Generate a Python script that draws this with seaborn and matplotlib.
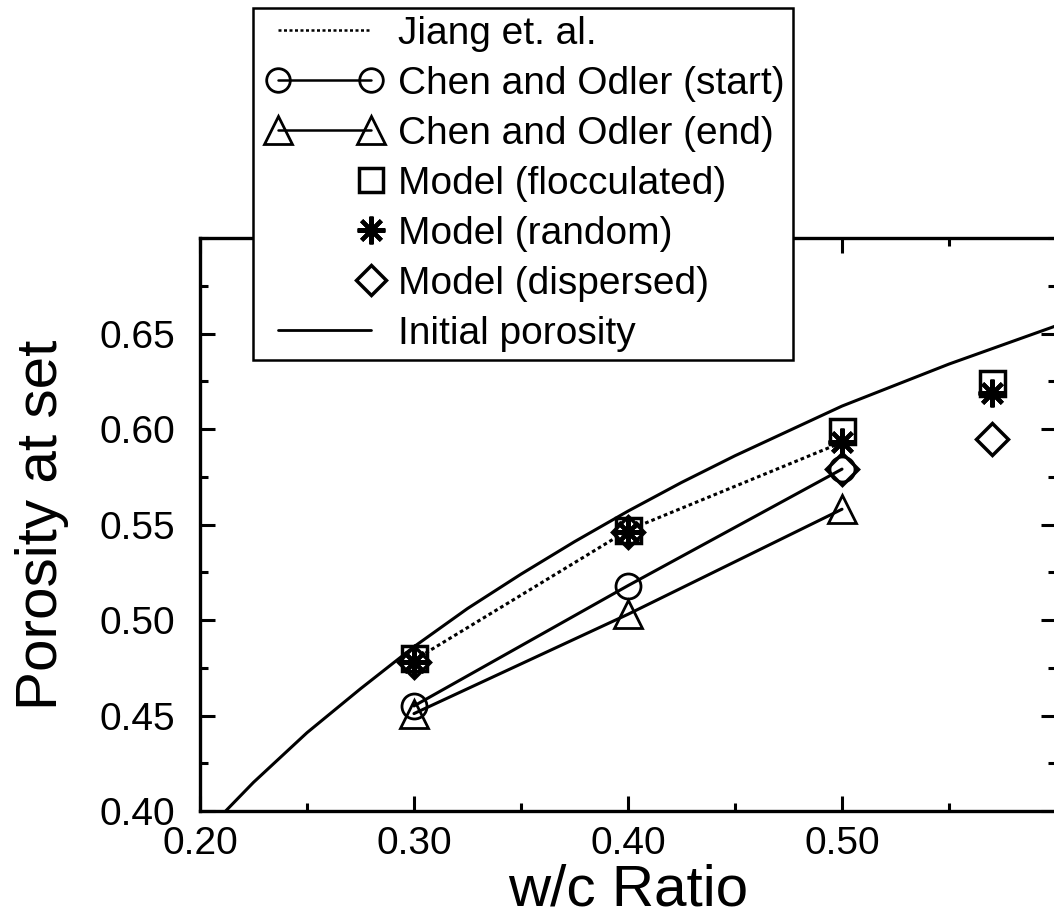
import numpy as np
import pandas as pd
import matplotlib
matplotlib.use("Agg")
import matplotlib.pyplot as plt
import seaborn as sns
from matplotlib.lines import Line2D
from matplotlib.legend_handler import HandlerLine2D
from matplotlib.ticker import MultipleLocator

# --- DATA ---
wc_init = [0.212, 0.225, 0.25, 0.275, 0.30, 0.325, 0.35, 0.375, 0.40,
           0.425, 0.45, 0.475, 0.50, 0.525, 0.55, 0.575, 0.60]
por_init = [0.400, 0.415, 0.441, 0.464, 0.486, 0.506, 0.524, 0.541, 0.557,
            0.572, 0.586, 0.599, 0.612, 0.623, 0.634, 0.644, 0.654]

wc_exp = [0.30, 0.40, 0.50]
jiang = [0.479, 0.547, 0.593]
chen_start = [0.455, 0.518, 0.579]
chen_end = [0.451, 0.503, 0.558]

wc_model = [0.30, 0.40, 0.50, 0.57]
model_floc = [0.480, 0.547, 0.599, 0.624]
model_rand = [0.478, 0.546, 0.593, 0.619]
model_disp = [0.478, 0.546, 0.579, 0.595]

legend_labels = ["Jiang et. al.", "Chen and Odler (start)", "Chen and Odler (end)",
                 "Model (flocculated)", "Model (random)", "Model (dispersed)",
                 "Initial porosity"]

sns.set_theme(style="ticks")
plt.rcParams['font.family'] = ['Liberation Sans', 'DejaVu Sans']
for key in ['text.color', 'axes.labelcolor', 'xtick.color', 'ytick.color', 'axes.edgecolor']:
    plt.rcParams[key] = 'black'

fig = plt.figure(figsize=(10.54, 9.17), dpi=100)
ax = fig.add_axes([200 / 1054, 1 - 811 / 917, 856 / 1054, 573 / 917])

LW = 2.2
ASTERISK = (8, 2, 0)
DOTTED = (0, (1.2, 1.0))

sns.lineplot(x=wc_init, y=por_init, color='black', linewidth=LW, ax=ax)
sns.lineplot(x=wc_exp, y=jiang, color='black', linewidth=LW, linestyle=DOTTED, ax=ax)
sns.lineplot(x=wc_exp, y=chen_start, color='black', linewidth=LW, marker='o', markersize=18,
             markerfacecolor='none', markeredgecolor='black', markeredgewidth=2, ax=ax)
sns.lineplot(x=wc_exp, y=chen_end, color='black', linewidth=LW, marker='^', markersize=20,
             markerfacecolor='none', markeredgecolor='black', markeredgewidth=2, ax=ax)
sns.lineplot(x=wc_model, y=model_floc, color='black', linestyle='', marker='s', markersize=18,
             markerfacecolor='none', markeredgecolor='black', markeredgewidth=2.5, ax=ax)
sns.lineplot(x=wc_model, y=model_rand, color='black', linestyle='', marker=ASTERISK, markersize=20,
             markeredgecolor='black', markeredgewidth=3, ax=ax)
sns.lineplot(x=wc_model, y=model_disp, color='black', linestyle='', marker='D', markersize=16,
             markerfacecolor='none', markeredgecolor='black', markeredgewidth=2.5, ax=ax)

ax.set_xlim(0.20, 0.60)
ax.set_ylim(0.40, 0.70)
ax.set_xticks([0.20, 0.30, 0.40, 0.50])
ax.set_xticklabels(["0.20", "0.30", "0.40", "0.50"])
ax.set_yticks([0.40, 0.45, 0.50, 0.55, 0.60, 0.65])
ax.set_yticklabels(["0.40", "0.45", "0.50", "0.55", "0.60", "0.65"])
ax.xaxis.set_minor_locator(MultipleLocator(0.05))
ax.yaxis.set_minor_locator(MultipleLocator(0.025))
ax.tick_params(which='both', direction='in', top=True, right=True, width=2.2, colors='black')
ax.tick_params(which='major', length=11, labelsize=28)
ax.tick_params(which='minor', length=6)
ax.tick_params(axis='y', pad=18)
ax.tick_params(axis='x', pad=11)
for sp in ax.spines.values():
    sp.set_linewidth(2.4)
    sp.set_color('black')

ax.set_xlabel("w/c Ratio", fontsize=42, labelpad=1)
ax.set_ylabel("Porosity at set", fontsize=42, labelpad=22)


class OffsetHandler(HandlerLine2D):
    """Line handle that starts a bit right of the frame; optional single marker at right end."""

    def __init__(self, offset, right_only=False, **kw):
        super().__init__(**kw)
        self.offset = offset
        self.right_only = right_only

    def get_xdata(self, legend, xdescent, ydescent, width, height, fontsize):
        x0 = -xdescent + self.offset
        x1 = width - xdescent
        if self.right_only:
            return np.array([x1]), np.array([x1])
        return np.array([x0, x1]), np.array([x0, x1])


handles = [
    Line2D([], [], color='black', linewidth=1.8, linestyle=DOTTED),
    Line2D([], [], color='black', linewidth=1.8, marker='o', markersize=17,
           markerfacecolor='none', markeredgewidth=2),
    Line2D([], [], color='black', linewidth=1.8, marker='^', markersize=20,
           markerfacecolor='none', markeredgewidth=2),
    Line2D([], [], color='black', linestyle='', marker='s', markersize=17,
           markerfacecolor='none', markeredgewidth=2.5),
    Line2D([], [], color='black', linestyle='', marker=ASTERISK, markersize=20,
           markeredgewidth=3),
    Line2D([], [], color='black', linestyle='', marker='D', markersize=15,
           markerfacecolor='none', markeredgewidth=2.5),
    Line2D([], [], color='black', linewidth=2.0),
]
OFF = 12.5  # points
hmap = {h: OffsetHandler(OFF, right_only=(i in (3, 4, 5))) for i, h in enumerate(handles)}
leg = fig.legend(handles, legend_labels, loc='upper left',
                 bbox_to_anchor=(253 / 1054, 1 - 8 / 917), bbox_transform=fig.transFigure,
                 fontsize=28, numpoints=2, handlelength=2.84, handletextpad=0.70,
                 labelspacing=0.36, borderpad=0.2, borderaxespad=0, fancybox=False,
                 framealpha=1, edgecolor='black', handler_map=hmap)
leg.get_frame().set_linewidth(1.8)
leg.set_zorder(10)

plt.savefig("out.png", dpi=100)
